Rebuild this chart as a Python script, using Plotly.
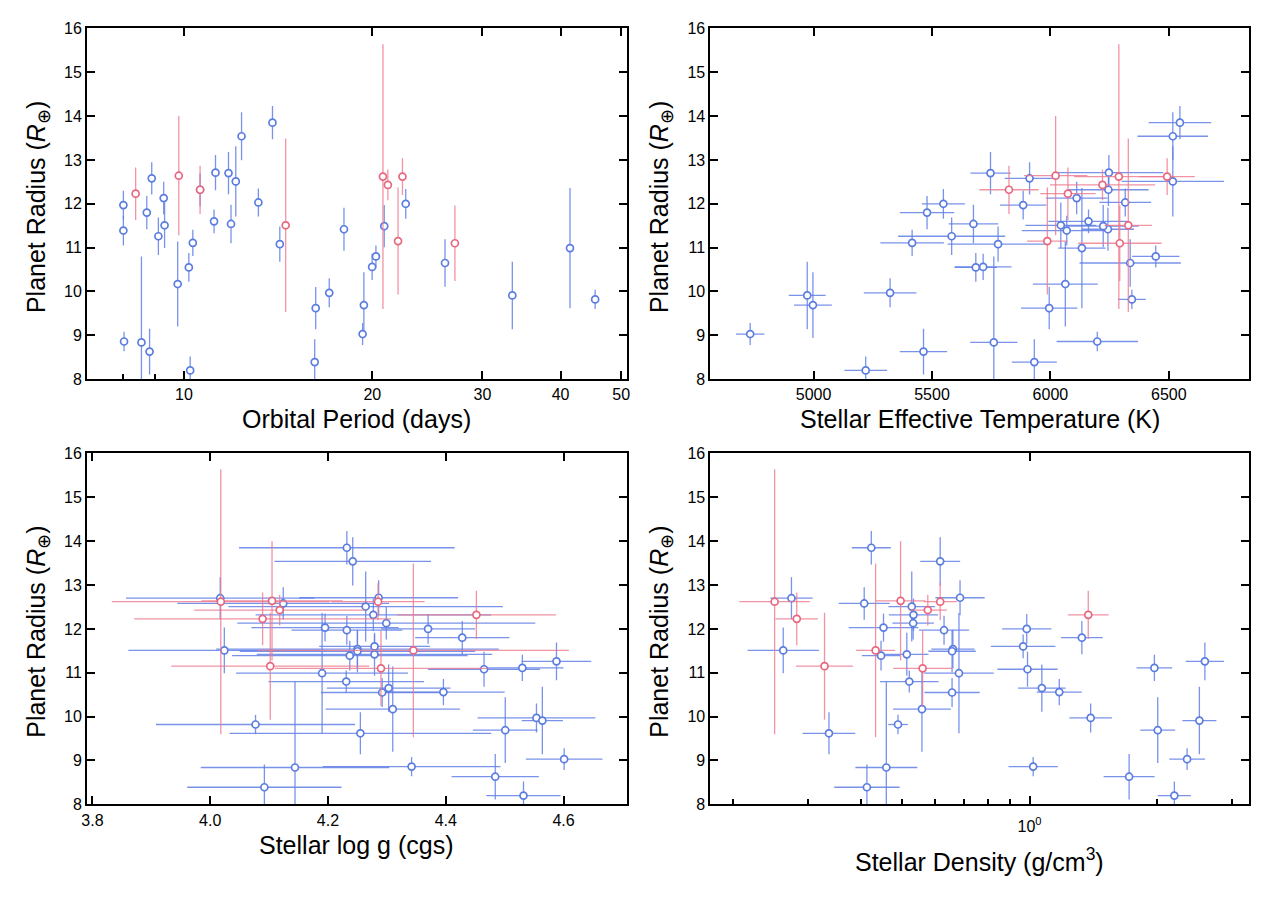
import numpy as np
import plotly.graph_objects as go
from plotly.subplots import make_subplots

# -----------------------------
# Blue sample (one entry per planet)
# -----------------------------
period_b = [8.00, 8.00, 8.02, 8.55, 8.72, 8.81, 8.88, 9.10, 9.28, 9.31,
            9.77, 10.18, 10.23, 10.33, 10.61, 11.17, 11.23, 11.78, 11.89, 12.10,
            12.36, 13.15, 13.85, 14.23, 16.18, 16.24, 17.07, 18.02, 19.30, 19.39,
            19.99, 20.27, 20.90, 22.62, 26.14, 33.49, 41.41, 45.43]
radius_b = [11.97, 11.39, 8.86, 8.84, 11.80, 8.63, 12.58, 11.26, 12.13, 11.51,
            10.17, 10.55, 8.20, 11.11, 12.32, 11.60, 12.71, 12.70, 11.54, 12.51,
            13.54, 12.03, 13.85, 11.08, 8.39, 9.62, 9.97, 11.42, 9.03, 9.69,
            10.56, 10.80, 11.49, 12.00, 10.65, 9.91, 10.99, 9.82]
radius_err_b = [0.33, 0.34, 0.22, 1.96, 0.38, 0.52, 0.37, 0.43, 0.37, 0.52,
                0.97, 0.33, 0.32, 0.30, 0.37, 0.27, 0.40, 0.48, 0.44, 0.80,
                0.55, 0.32, 0.38, 0.40, 0.52, 0.48, 0.33, 0.49, 0.25, 0.75,
                0.30, 0.25, 0.48, 0.34, 0.54, 0.77, 1.37, 0.22]
teff_b = [5885, 6069, 6198, 5761, 5479, 5464, 5912, 5583, 6111, 6044,
          6063, 5685, 5220, 5416, 6245, 6161, 6247, 5747, 5675, 6517,
          6517, 6316, 6547, 5779, 5932, 5995, 5323, 6243, 4732, 4997,
          5716, 6445, 6223, 5548, 6337, 4973, 6133, 6344]
teff_err_b = [98, 190, 172, 100, 115, 100, 105, 226, 130, 150,
              137, 90, 90, 134, 170, 170, 230, 85, 105, 216,
              149, 109, 132, 213, 95, 119, 111, 110, 60, 80,
              120, 100, 150, 91, 214, 78, 100, 59]
logg_b = [4.232, 4.237, 4.342, 4.144, 4.428, 4.484, 4.124, 4.588, 4.299, 4.024,
          4.310, 4.292, 4.532, 4.530, 4.277, 4.279, 4.286, 4.017, 4.250, 4.264,
          4.242, 4.195, 4.232, 4.465, 4.092, 4.255, 4.554, 4.279, 4.601, 4.501,
          4.396, 4.231, 4.250, 4.370, 4.303, 4.564, 4.190, 4.077]
logg_err_b = [0.094, 0.20, 0.151, 0.16, 0.08, 0.074, 0.18, 0.059, 0.253, 0.163,
              0.114, 0.104, 0.063, 0.07, 0.20, 0.094, 0.135, 0.16, 0.24, 0.233,
              0.133, 0.125, 0.183, 0.095, 0.131, 0.222, 0.10, 0.20, 0.065, 0.055,
              0.104, 0.132, 0.20, 0.08, 0.105, 0.035, 0.146, 0.169]
rho_b = [0.629, 0.447, 1.02, 0.460, 1.328, 1.716, 0.408, 2.588, 0.532, 0.263,
         0.558, 0.657, 2.193, 1.968, 0.533, 0.966, 0.686, 0.275, 0.660, 0.528,
         0.616, 0.453, 0.424, 0.989, 0.414, 0.337, 1.393, 0.514, 2.350, 2.004,
         1.175, 0.521, 0.657, 0.985, 1.069, 2.512, 0.682, 0.490]
rho_err_dex_b = [0.059, 0.045, 0.058, 0.073, 0.049, 0.060, 0.060, 0.045, 0.049, 0.084,
                 0.068, 0.065, 0.039, 0.042, 0.058, 0.076, 0.058, 0.050, 0.051, 0.055,
                 0.047, 0.082, 0.046, 0.071, 0.077, 0.062, 0.050, 0.051, 0.042, 0.041,
                 0.053, 0.069, 0.056, 0.058, 0.056, 0.040, 0.082, 0.023]

# -----------------------------
# Red sample
# -----------------------------
period_r = [8.37, 9.81, 10.61, 14.54, 20.80, 21.18, 21.99, 22.35, 27.11]
radius_r = [12.23, 12.64, 12.32, 11.51, 12.62, 12.43, 11.15, 12.62, 11.10]
radius_err_r = [0.60, 1.36, 0.55, 1.98, 3.02, 0.35, 1.22, 0.42, 0.86]
teff_r = [6074, 6022, 5825, 6329, 6289, 6220, 5987, 6493, 6293]
teff_err_r = [117, 134, 125, 100, 189, 222, 86, 117, 176]
logg_r = [4.089, 4.105, 4.452, 4.345, 4.018, 4.118, 4.102, 4.285, 4.290]
logg_err_r = [0.218, 0.12, 0.135, 0.264, 0.185, 0.145, 0.168, 0.079, 0.18]
rho_r = [0.283, 0.497, 1.375, 0.434, 0.251, 0.576, 0.329, 0.616, 0.560]
rho_err_dex_r = [0.050, 0.058, 0.048, 0.046, 0.083, 0.045, 0.067, 0.039, 0.069]

# tick labels
period_ticks = [10, 20, 30, 40, 50]
period_minor = [8, 9]
teff_ticks = [5000, 5500, 6000, 6500]
logg_ticks = [3.8, 4.0, 4.2, 4.4, 4.6]
rho_ticks = [1]
rho_ticktext = ["10<sup>0</sup>"]
rho_minor = [0.2, 0.3, 0.4, 0.5, 0.6, 0.7, 0.8, 0.9, 2, 3]

BLUE = "#5b7ddf"
BLUE_BAR = "rgba(98,128,230,0.85)"
RED = "#e8677f"
RED_BAR = "rgba(236,120,140,0.8)"
FONT = "Liberation Sans, Arial, sans-serif"

# page pixel geometry (browser body keeps an 8px margin)
OFF = 8
W, H = 1268 - 2 * OFF, 905 - 2 * OFF


def px(x):
    return (x - OFF) / W


def py(y):
    return 1 - (y - OFF) / H


def log_err(vals, dex):
    v = np.array(vals)
    d = np.array(dex)
    return v * (10 ** d - 1), v * (1 - 10 ** -d)


fig = make_subplots(rows=2, cols=2)


def add_pair(x_b, xe_b, x_r, xe_r, row, col, xem_b=None, xem_r=None):
    for x, xe, xem, y, ye, mc, bc in [
        (x_b, xe_b, xem_b, radius_b, radius_err_b, BLUE, BLUE_BAR),
        (x_r, xe_r, xem_r, radius_r, radius_err_r, RED, RED_BAR),
    ]:
        ex = None
        if xe is not None:
            ex = dict(type="data", array=xe, color=bc, thickness=1.3, width=0)
            if xem is not None:
                ex["symmetric"] = False
                ex["arrayminus"] = xem
        fig.add_trace(
            go.Scatter(
                x=x, y=y, mode="markers", showlegend=False, hoverinfo="skip",
                marker=dict(symbol="circle", size=7, color="white",
                            line=dict(color=mc, width=1.7)),
                error_y=dict(type="data", array=ye, color=bc, thickness=1.3, width=0),
                error_x=ex,
            ),
            row=row, col=col,
        )


add_pair(period_b, None, period_r, None, 1, 1)
add_pair(teff_b, teff_err_b, teff_r, teff_err_r, 1, 2)
add_pair(logg_b, logg_err_b, logg_r, logg_err_r, 2, 1)
rp_b, rm_b = log_err(rho_b, rho_err_dex_b)
rp_r, rm_r = log_err(rho_r, rho_err_dex_r)
add_pair(rho_b, rp_b, rho_r, rp_r, 2, 2, rm_b, rm_r)

# empty traces so the top-tick overlay axes exist
fig.add_trace(go.Scatter(x=[], y=[], xaxis="x5", yaxis="y", showlegend=False))
fig.add_trace(go.Scatter(x=[], y=[], xaxis="x6", yaxis="y4", showlegend=False))

tick_font = dict(size=16, color="black", family=FONT)
axis_style = dict(showline=True, linecolor="black", linewidth=2, mirror="ticks",
                  ticks="inside", ticklen=8, tickwidth=1.5, tickcolor="black",
                  showgrid=False, zeroline=False, tickfont=tick_font)
minor_style = dict(ticks="inside", ticklen=5, tickwidth=1.5, tickcolor="black",
                   showgrid=False)
top_style = dict(side="top", ticks="inside", ticklen=8, tickwidth=1.5,
                 tickcolor="black", showticklabels=False, showline=False,
                 showgrid=False, zeroline=False)

col_x = [[px(81.7), px(625.5)], [px(710), px(1253)]]
row_y = [[py(378.3), py(20.6)], [py(811.7), py(454)]]

rng1 = [np.log10(7.0), np.log10(51.0)]
rng4 = [-0.7516, 0.517]

fig.update_layout(
    xaxis=dict(axis_style, domain=col_x[0], type="log", range=rng1, mirror=True,
               tickvals=period_ticks, ticktext=[str(t) for t in period_ticks],
               minor=dict(minor_style, tickvals=period_minor)),
    xaxis2=dict(axis_style, domain=col_x[1], range=[4564, 6839],
                tickvals=teff_ticks),
    xaxis3=dict(axis_style, domain=col_x[0], range=[3.791, 4.707],
                tickvals=logg_ticks, tickformat=".1f"),
    xaxis4=dict(axis_style, domain=col_x[1], type="log", range=rng4, mirror=True,
                tickvals=rho_ticks, ticktext=rho_ticktext, ticklabelstandoff=6,
                minor=dict(minor_style, tickvals=rho_minor)),
    xaxis5=dict(top_style, overlaying="x", anchor="y", type="log", range=rng1,
                domain=col_x[0], tickvals=period_ticks),
    xaxis6=dict(top_style, overlaying="x4", anchor="y4", type="log", range=rng4,
                domain=col_x[1], tickvals=rho_ticks),
)
for i, (cx, ry) in enumerate([(0, 0), (1, 0), (0, 1), (1, 1)], start=1):
    key = "yaxis" if i == 1 else "yaxis%d" % i
    fig.update_layout({key: dict(axis_style, domain=row_y[ry], range=[8, 16],
                                 tick0=8, dtick=1)})

# axis titles
title_font = dict(size=25, color="black", family=FONT)
ytitle = "Planet Radius (<i>R</i><sub>\u2295</sub>)"
xtitles = [
    ("Orbital Period (days)", 353.6, 419),
    ("Stellar Effective Temperature (K)", 981.5, 419),
    ("Stellar log g (cgs)", 353.6, 853),
    ("Stellar Density (g/cm<sup>3</sup>)", 981.5, 868),
]
annotations = []
for text, xc, yc in xtitles:
    annotations.append(dict(text=text, x=px(xc), y=py(yc), xref="paper", yref="paper",
                            xanchor="center", yanchor="middle", showarrow=False,
                            font=title_font))
for xc, yc in [(32, 203), (660, 203), (32, 636), (660, 636)]:
    annotations.append(dict(text=ytitle, x=px(xc), y=py(yc), xref="paper", yref="paper",
                            xanchor="center", yanchor="middle", textangle=-90,
                            showarrow=False, font=title_font))

fig.update_layout(
    annotations=annotations,
    width=W, height=H,
    margin=dict(l=0, r=0, t=0, b=0),
    paper_bgcolor="white", plot_bgcolor="white",
    font=dict(family=FONT, color="black"),
)

fig.write_html("out.html")
